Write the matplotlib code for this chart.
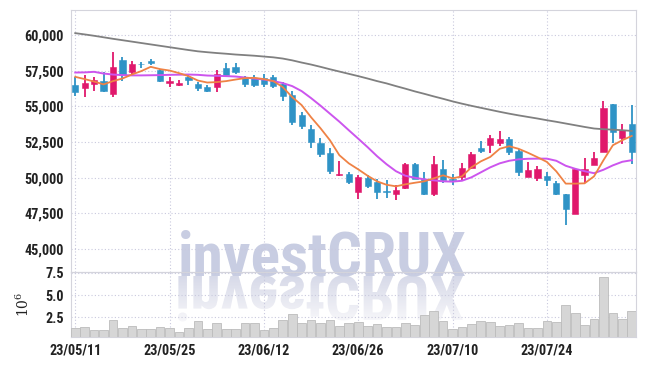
import matplotlib
matplotlib.use("Agg")
import matplotlib.pyplot as plt
import numpy as np
from matplotlib import font_manager
from matplotlib.textpath import TextPath
from matplotlib.patches import PathPatch
from matplotlib.font_manager import FontProperties
from matplotlib.transforms import Affine2D

# 일봉 데이터 (60 거래일)
tick_labels = ["23/05/11", "23/05/25", "23/06/12", "23/06/26", "23/07/10", "23/07/24"]
tick_index = [0, 10, 20, 30, 40, 50]

opens = [56500, 56300, 56550, 56770, 55900, 58250, 57420, 58000, 58200, 57540,
         56610, 56470, 57030, 56560, 56370, 56330, 57660, 57730, 57030, 56960,
         56960, 57030, 56560, 55790, 54380, 53450, 52440, 51700, 50170, 50240,
         49000, 50010, 49700, 49070, 48840, 49280, 50940, 49940, 48890, 50640,
         49940, 50050, 50710, 52050, 52280, 52400, 52750, 51860, 50050, 49980,
         50100, 49630, 48840, 47480, 50220, 50920, 51810, 55140, 52790, 53800]
highs = [57050, 57200, 57050, 57420, 58830, 58430, 58200, 58120, 58300, 57600,
         57030, 56840, 57190, 56720, 56490, 57540, 58010, 58050, 57120, 57190,
         57260, 57190, 56720, 56090, 54620, 53680, 52820, 52050, 51150, 50400,
         50170, 50170, 49940, 49820, 49470, 51040, 51040, 50400, 51510, 51230,
         50290, 51040, 51810, 52580, 52980, 53260, 52840, 52000, 51100, 50800,
         50400, 49750, 48840, 50680, 51410, 51810, 55370, 55140, 53800, 55090]
lows = [55700, 55650, 56100, 56020, 55630, 56770, 57260, 57700, 57900, 56720,
        56370, 56440, 56490, 56090, 56020, 56020, 57070, 57260, 56330, 56370,
        56370, 56260, 55370, 53730, 53450, 52050, 51460, 50290, 50100, 49590,
        48540, 49260, 48540, 48610, 48420, 49240, 49890, 48790, 48700, 49630,
        49470, 49870, 50640, 51700, 51700, 52230, 51600, 50100, 50050, 49750,
        49400, 48820, 46710, 47480, 49660, 50870, 51810, 52400, 52330, 50990]
closes = [56000, 56650, 56850, 56070, 57750, 57200, 57960, 57950, 58010, 56800,
          56770, 56650, 56840, 56260, 56090, 57260, 57190, 57420, 56560, 56490,
          56560, 56440, 55720, 53910, 53630, 52510, 51650, 50470, 50290, 49680,
          50050, 49400, 49000, 49030, 49120, 50990, 49940, 48840, 50940, 49870,
          49820, 50680, 51650, 51880, 52820, 52750, 51810, 50400, 50520, 50640,
          49870, 48890, 47830, 50640, 50640, 51390, 54920, 53210, 53330, 51810]
volume = [1.3, 1.4, 1.1, 1.1, 2.2, 1.3, 1.5, 1.2, 1.2, 1.4,
          1.3, 0.85, 1.3, 2.1, 1.2, 1.85, 1.2, 1.2, 1.85, 1.85,
          1.1, 1.3, 2.2, 2.85, 1.85, 2.2, 1.85, 2.2, 1.5, 1.85,
          1.95, 1.5, 1.75, 1.4, 1.4, 1.85, 1.6, 2.75, 3.2, 2.05,
          1.2, 1.4, 1.75, 2.05, 1.95, 1.5, 1.6, 1.85, 1.3, 1.3,
          2.05, 1.95, 3.85, 2.95, 1.6, 2.3, 7.0, 2.95, 2.3, 3.2]

# 이동평균선
ma5 = [57070, 56910, 56740, 56540, 56770, 56950, 57230, 57470, 57770, 57610,
       57510, 57330, 57120, 56810, 56670, 56700, 56770, 56880, 56980, 57000,
       56910, 56770, 56350, 55650, 55090, 54240, 53470, 52630, 51580, 51010,
       50590, 50140, 49750, 49510, 49400, 49540, 49650, 49750, 49960, 50170,
       49960, 50100, 50730, 51150, 51460, 52030, 52210, 52030, 51750, 51440,
       51110, 50450, 49590, 49590, 49610, 50100, 51230, 52280, 52630, 52930]
ma20 = [57370, 57380, 57420, 57300, 57230, 57190, 57170, 57170, 57180, 57190,
        57210, 57220, 57230, 57210, 57160, 57140, 57120, 57090, 57020, 56950,
        56880, 56770, 56630, 56420, 56070, 55580, 55050, 54490, 53930, 53330,
        52740, 52140, 51510, 50950, 50460, 50140, 50000, 49890, 49820, 49750,
        49730, 49790, 50030, 50380, 50730, 51010, 51190, 51290, 51330, 51340,
        51340, 51190, 50840, 50630, 50460, 50320, 50560, 50870, 51120, 51230]
ma120 = [60130, 60040, 59944, 59839, 59733, 59635, 59537, 59438, 59340, 59242,
         59144, 59045, 58947, 58856, 58793, 58736, 58687, 58631, 58590, 58547,
         58491, 58435, 58350, 58224, 58070, 57930, 57770, 57600, 57440, 57280,
         57120, 56950, 56770, 56610, 56420, 56240, 56050, 55880, 55700, 55530,
         55350, 55190, 55040, 54900, 54760, 54620, 54490, 54370, 54260, 54150,
         54030, 53920, 53800, 53680, 53560, 53450, 53400, 53370, 53330, 53280]

UP = "#e0186c"
DOWN = "#2f93c6"
GRID = "#c9c9de"
SPINE = "#d4d4dc"
TXT = "#222222"


def wnum(w):
    if isinstance(w, str):
        return font_manager.weight_dict.get(w, 400)
    return w


def narrow_font(target):
    # 좁은 글꼴 중 원하는 굵기에 가장 가까운 것
    fl = font_manager.fontManager.ttflist
    for want in ["Roboto Condensed", "Liberation Sans Narrow", "Open Sans Condensed"]:
        hits = [f for f in fl if f.name == want and f.style == "normal"]
        if hits:
            hits.sort(key=lambda f: abs(wnum(f.weight) - target))
            return hits[0].fname
    return None


lab_file = narrow_font(600)
wm_file = narrow_font(700)
if lab_file:
    fp = FontProperties(fname=lab_file, size=10.2)
    wm_font = FontProperties(fname=wm_file)
else:
    fp = FontProperties(family="Liberation Sans", weight="bold", size=9.5)
    wm_font = FontProperties(family="DejaVu Sans", weight="bold")
plt.rcParams["mathtext.fontset"] = "dejavuserif"

W, H = 645, 366
fig = plt.figure(figsize=(W / 100, H / 100), dpi=100)
fig.patch.set_facecolor("white")

# 워터마크용 배경 축 (픽셀 좌표, 원점 아래)
axw = fig.add_axes([0, 0, 1, 1], zorder=-1)
axw.set_xlim(0, W); axw.set_ylim(0, H); axw.axis("off")

ax = fig.add_axes([71 / W, 1 - 272 / H, (636 - 71) / W, (272 - 10) / H])
axv = fig.add_axes([71 / W, 1 - 337 / H, (636 - 71) / W, (337 - 272) / H], sharex=ax)
for a in (ax, axv):
    a.set_facecolor("none")
    for s in a.spines.values():
        s.set_color(SPINE)
        s.set_linewidth(0.8)

x = np.arange(len(closes))
o = np.array(opens); c = np.array(closes)
cols = [UP if cc > oo else DOWN for oo, cc in zip(opens, closes)]

# 캔들
ax.vlines(x, lows, highs, colors=cols, linewidth=1.3, zorder=3)
body = np.where(np.abs(c - o) < 50, 50, np.abs(c - o))
ax.bar(x, body, bottom=np.minimum(o, c), width=0.66, color=cols,
       edgecolor=cols, linewidth=0.4, zorder=4)

# 이동평균
ax.plot(x, ma120, color="#808080", lw=1.3, zorder=5)
ax.plot(x, ma20, color="#cc55ee", lw=1.4, zorder=5)
ax.plot(x, ma5, color="#ef8245", lw=1.3, zorder=6)

ax.set_xlim(-0.45, len(x) - 0.55)
ax.set_ylim(43400, 61750)
yt = [45000, 47500, 50000, 52500, 55000, 57500, 60000]
ax.set_yticks(yt)
ax.set_yticklabels([f"{v:,}" for v in yt], fontproperties=fp, color=TXT)
ax.grid(True, color=GRID, linestyle=(0, (1, 2)), linewidth=0.8)
ax.set_axisbelow(True)
ax.tick_params(length=0, pad=5)
ax.tick_params(axis="x", labelbottom=False)

# 거래량
axv.bar(x, volume, width=0.92, color="#d6d6d6", edgecolor="#bcbcbc", linewidth=0.6, zorder=3)
axv.set_ylim(0.28, 7.6)
axv.set_yticks([2.5, 5.0, 7.5])
axv.set_yticklabels(["2.5", "5.0", "7.5"], fontproperties=fp, color=TXT)
axv.set_xticks(tick_index)
axv.set_xticklabels(tick_labels, fontproperties=fp, color=TXT)
axv.grid(True, color=GRID, linestyle=(0, (1, 2)), linewidth=0.8)
axv.set_axisbelow(True)
axv.tick_params(length=0, pad=5)
axv.set_ylabel(r"$10^6$", fontsize=10, color=TXT)
axv.yaxis.set_label_coords(-0.069, 0.5)

# 워터마크
tp = TextPath((0, 0), "investCRUX", size=100, prop=wm_font)
bb = tp.get_extents()
fsize = (463 - 178) / (bb.width / 100 * 100 / 72)
axw.text(178, H - 275, "investCRUX", fontproperties=wm_font, fontsize=fsize,
         color="#c8cde2", ha="left", va="baseline")
# 아래쪽 반사 (그라데이션)
sx = (463 - 178) / bb.width
t_ref = Affine2D().translate(-bb.x0, 0).scale(sx, -sx).translate(178, H - 276) + axw.transData
ref = PathPatch(tp, transform=t_ref, facecolor="none", edgecolor="none")
axw.add_patch(ref)
top_c = np.array([0.84, 0.85, 0.91])
bot_c = np.array([0.97, 0.97, 0.98])
g = np.linspace(0, 1, 64)[:, None]
grad = top_c[None, :] * (1 - g) + bot_c[None, :] * g
img = np.repeat(grad[:, None, :], 2, axis=1)
ref_h = bb.height * sx
im = axw.imshow(img, extent=(178, 463, H - 276 - ref_h, H - 276), origin="upper",
                aspect="auto", interpolation="bilinear")
im.set_clip_path(ref)
axw.set_xlim(0, W); axw.set_ylim(0, H)

fig.savefig("out.png", dpi=100, facecolor="white")
